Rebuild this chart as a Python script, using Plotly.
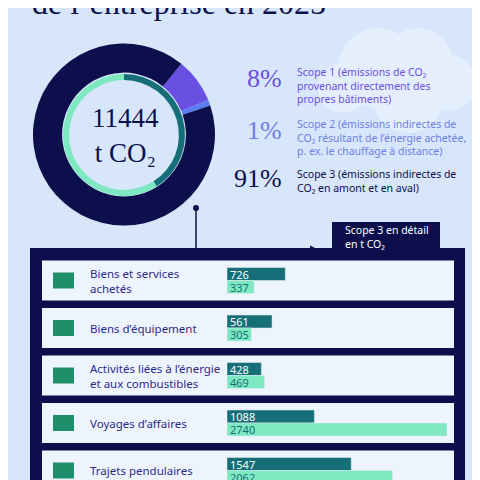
import plotly.graph_objects as go

# donut data
scope_labels = ["Scope 1", "Scope 2", "Scope 3"]
scope_share = [8, 1, 91]
scope_colors = ["#6a4fe3", "#5c7cf4", "#0c0f4b"]
inner_share = [41, 59]
total_co2 = "11444"

scope_texts = [
    "Scope 1 (émissions de CO₂<br>provenant directement des<br>propres bâtiments)",
    "Scope 2 (émissions indirectes de<br>CO₂ résultant de l’énergie achetée,<br>p. ex. le chauffage à distance)",
    "Scope 3 (émissions indirectes de<br>CO₂ en amont et en aval)",
]
text_colors = ["#6a4fe3", "#6d7fe6", "#0c0f4b"]

# scope 3 detail
categories = ["Biens et services<br>achetés", "Biens d’équipement",
              "Activités liées à l’énergie<br>et aux combustibles",
              "Voyages d’affaires", "Trajets pendulaires"]
dark_vals = [726, 561, 428, 1088, 1547]
light_vals = [337, 305, 469, 2740, 2062]

BG = "#d7e6fa"
NAVY = "#0c0f4b"
DARK = "#166f78"
LIGHT = "#7ee8c0"

row_y = [272.5 + 47.5 * i for i in range(len(categories))]

fig = go.Figure()

fig.add_trace(go.Pie(values=scope_share, labels=scope_labels, hole=0.68, rotation=39,
                     direction="clockwise", sort=False, marker=dict(colors=scope_colors),
                     textinfo="none", hoverinfo="label+percent", showlegend=False,
                     domain=dict(x=[25/480, 207/480], y=[1-218/480, 1-35/480])))
fig.add_trace(go.Pie(values=inner_share, hole=0.9, rotation=0, direction="clockwise", sort=False,
                     marker=dict(colors=[DARK, LIGHT]), textinfo="none", hoverinfo="skip",
                     showlegend=False,
                     domain=dict(x=[55/480, 177/480], y=[1-188/480, 1-66/480])))

fig.add_trace(go.Bar(y=[y - 6.5 for y in row_y], x=dark_vals, orientation="h", width=13,
                     marker=dict(color=DARK), text=dark_vals, textposition="inside",
                     insidetextanchor="start", textfont=dict(color="white", size=11, family="Noto Sans"),
                     showlegend=False))
fig.add_trace(go.Bar(y=[y + 6.5 for y in row_y], x=light_vals, orientation="h", width=13,
                     marker=dict(color=LIGHT), text=light_vals, textposition="inside",
                     insidetextanchor="start", textfont=dict(color=DARK, size=11, family="Noto Sans"),
                     showlegend=False))

shapes = []
# cloud
for cx, cy, r in [(370, 60, 40), (410, 55, 35), (440, 75, 28), (335, 80, 25), (400, 90, 35)]:
    shapes.append(dict(type="circle", xref="paper", yref="paper", x0=(cx-r)/480, x1=(cx+r)/480,
                       y0=1-(cy+r)/480, y1=1-(cy-r)/480, fillcolor="#e4eefc", line_width=0, layer="below"))
# connector
shapes.append(dict(type="circle", xref="paper", yref="paper", x0=185/480, x1=191/480,
                   y0=1-203/480, y1=1-197/480, fillcolor=NAVY, line_width=0))
shapes.append(dict(type="path", xref="paper", yref="paper",
                   path=f"M {188/480} {1-200/480} L {188/480} {1-242/480} L {305/480} {1-242/480}",
                   line=dict(color=NAVY, width=1.5)))
# tab & panel
shapes.append(dict(type="rect", xref="paper", yref="paper", x0=324/480, x1=432/480,
                   y0=1-245/480, y1=1-214/480, fillcolor=NAVY, line_width=0))
shapes.append(dict(type="rect", xref="paper", yref="paper", x0=22/480, x1=457/480,
                   y0=0, y1=1-240/480, fillcolor=NAVY, line_width=0, layer="below"))
for y in row_y:
    shapes.append(dict(type="rect", xref="paper", yref="paper", x0=34/480, x1=446/480,
                       y0=1-(y+20)/480, y1=1-(y-20)/480, fillcolor="#eef4fd", line_width=0, layer="below"))
    shapes.append(dict(type="rect", xref="paper", yref="paper", x0=45/480, x1=66/480,
                       y0=1-(y+8)/480, y1=1-(y-8)/480, fillcolor="#1f8e6b", line_width=0))

ann = [
    dict(text="de l’entreprise en 2025", x=22/480, y=1-15/480, xanchor="left", yanchor="bottom",
         font=dict(family="Liberation Serif", size=32, color=NAVY)),
    dict(text=f"{total_co2}<br>t CO₂", x=117/480, y=1-127/480, xanchor="center", yanchor="middle",
         font=dict(family="Liberation Serif", size=27, color=NAVY)),
    dict(text="Scope 3 en détail<br>en t CO₂", x=335/480, y=1-229/480, xanchor="left", yanchor="middle",
         align="left", font=dict(family="Noto Sans", size=10.5, color="white")),
]
for i, (p, t, c) in enumerate(zip(scope_share, scope_texts, text_colors)):
    yc = [70, 122, 170][i]
    ann.append(dict(text=f"{p}%", x=276/480, y=1-yc/480, xanchor="right", yanchor="middle",
                    font=dict(family="Liberation Serif", size=26, color=c)))
    ann.append(dict(text=t, x=287/480, y=1-(yc+ (8 if i < 2 else 0))/480 if i < 2 else 1-(yc+3)/480,
                    xanchor="left", yanchor="middle", align="left",
                    font=dict(family="Noto Sans", size=10.5, color=c)))
for cat, y in zip(categories, row_y):
    ann.append(dict(text=cat, x=80/480, y=1-y/480, xanchor="left", yanchor="middle", align="left",
                    font=dict(family="Noto Sans", size=11.5, color="#2b2a8c")))
for a in ann:
    a.update(xref="paper", yref="paper", showarrow=False)
ann.append(dict(x=311/480, y=1-242/480, ax=-12, ay=0, xref="paper", yref="paper",
                showarrow=True, arrowhead=2, arrowsize=1.2,
                arrowwidth=1.5, arrowcolor=NAVY, text=""))

fig.update_layout(
    width=480, height=480, margin=dict(l=0, r=0, t=0, b=0),
    paper_bgcolor=BG, plot_bgcolor="rgba(0,0,0,0)",
    xaxis=dict(domain=[219/480, 439/480], range=[0, 2740], visible=False, fixedrange=True),
    yaxis=dict(domain=[0, 1], range=[480, 0], visible=False, fixedrange=True),
    barmode="overlay", shapes=shapes, annotations=ann,
    uniformtext=dict(minsize=10, mode="show"),
)
fig.write_html("out.html")
